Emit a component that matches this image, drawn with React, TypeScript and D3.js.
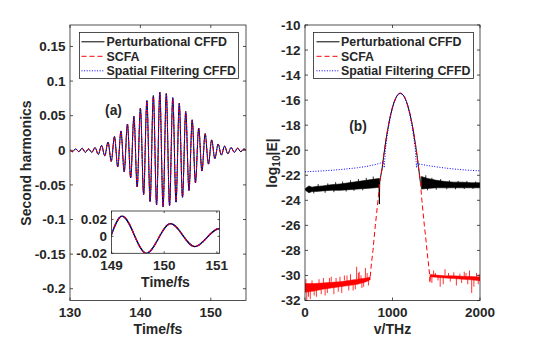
import React from 'react';
import * as d3 from 'd3';

// ---------- Panel (a): second harmonic waveform (extrema) ----------
const waveTime = [
  130.0, 130.34, 130.8, 131.26, 131.72, 132.18, 132.64, 133.1, 133.56, 134.02, 134.48, 134.94,
  135.4, 135.86, 136.32, 136.78, 137.24, 137.7, 138.16, 138.62, 139.08, 139.54, 140.0, 140.46,
  140.92, 141.38, 141.84, 142.3, 142.76, 143.22, 143.68, 144.14, 144.6, 145.06, 145.52, 145.98,
  146.44, 146.9, 147.36, 147.82, 148.28, 148.74, 149.2, 149.66, 150.12, 150.58, 151.04, 151.5,
  151.96, 152.42, 152.88, 153.34, 153.8, 154.26, 154.72, 155.0,
];
const waveValue = [
  0.0, -0.002, 0.002, -0.002, 0.003, -0.003, 0.002, -0.003, 0.004, -0.006, 0.007, -0.008,
  0.012, -0.016, 0.02, -0.024, 0.028, -0.031, 0.038, -0.04, 0.049, -0.053, 0.061, -0.064,
  0.072, -0.074, 0.079, -0.079, 0.084, -0.082, 0.082, -0.08, 0.076, -0.075, 0.068, -0.068,
  0.056, -0.058, 0.044, -0.047, 0.032, -0.03, 0.024, -0.02, 0.015, -0.012, 0.009, -0.007,
  0.006, -0.005, 0.004, -0.003, 0.003, -0.002, 0.002, 0.0,
];
const mainXTicks = [130, 140, 150];
const mainXTickLabels = ['130', '140', '150'];
const mainYTicks = [-0.2, -0.15, -0.1, -0.05, 0, 0.05, 0.1, 0.15];
const mainYTickLabels = ['-0.2', '-0.15', '-0.1', '-0.05', '0', '0.05', '0.1', '0.15'];
const insetXTicks = [149, 150, 151];
const insetXTickLabels = ['149', '150', '151'];
const insetYTicks = [-0.02, 0, 0.02];
const insetYTickLabels = ['-0.02', '0', '0.02'];

// ---------- Panel (b): spectrum log10|E| ----------
const peakFreq = [880, 900, 920, 940, 960, 980, 1000, 1020, 1040, 1060, 1080, 1090, 1100, 1120, 1140, 1160, 1180, 1200, 1220, 1240, 1260, 1280, 1300];
const peakLog = [-21.51, -20.41, -19.42, -18.54, -17.77, -17.11, -16.56, -16.12, -15.79, -15.57, -15.46, -15.45, -15.46, -15.57, -15.79, -16.12, -16.56, -17.11, -17.77, -18.54, -19.42, -20.41, -21.51];

// SCFA (red): rising / falling flanks outside the common peak
const redRiseFreq = [745, 760, 777, 790, 804, 819, 834, 848, 862];
const redRiseLog = [-30.1, -29.0, -28.0, -27.0, -26.0, -25.0, -24.0, -23.0, -22.2];
const redFallFreq = [1318, 1336, 1350, 1364, 1380, 1394, 1410, 1425, 1428, 1432];
const redFallLog = [-22.5, -24.0, -25.0, -26.0, -27.0, -28.0, -29.0, -30.0, -30.6, -30.0];
// SCFA noise floors (upper / lower edge of the noisy band)
const redLeftFloorFreq = [0, 100, 200, 300, 400, 500, 600, 700, 745];
const redLeftFloorHigh = [-30.65, -30.65, -30.6, -30.55, -30.5, -30.4, -30.3, -30.2, -30.12];
const redLeftFloorLow = [-31.35, -31.25, -31.1, -31.0, -30.9, -30.8, -30.7, -30.5, -30.35];
const redRightFloorFreq = [1430, 1500, 1600, 1700, 1800, 1900, 2000];
const redRightFloorHigh = [-29.92, -29.97, -30.02, -30.03, -30.07, -30.08, -30.12];
const redRightFloorLow = [-30.1, -30.15, -30.2, -30.25, -30.3, -30.35, -30.42];
const redSpikeFreq = [
  20, 60, 130, 230, 330, 420, 550, 650, 300, 450, 590, 620, 690,
  10, 40, 80, 105, 160, 185, 210, 255, 280, 355, 380, 400, 480, 500, 520, 575, 610, 640, 670, 710, 725,
  1450, 1470, 1545, 1580, 1600, 1700, 1730, 1820, 1860, 1880, 1905, 1930, 1960,
  1490, 1520, 1640, 1660, 1770, 1790, 1840, 1980, 1990,
];
const redSpikeFrom = [
  -31.2, -31.2, -31.1, -31.0, -30.9, -30.8, -30.7, -30.6, -30.5, -30.4, -30.3, -30.3, -30.2,
  -30.9, -31.0, -30.9, -31.0, -30.8, -31.0, -30.8, -30.9, -30.7, -30.7, -30.8, -30.6, -30.6, -30.7, -30.5, -30.6, -30.4, -30.4, -30.5, -30.3, -30.3,
  -30.0, -30.0, -30.1, -30.1, -30.0, -30.1, -30.1, -30.1, -30.2, -30.2, -30.2, -30.2, -30.2,
  -30.0, -30.1, -30.1, -30.2, -30.1, -30.2, -30.2, -30.3, -30.2,
];
const redSpikeTo = [
  -32.0, -31.9, -31.7, -31.6, -31.5, -31.4, -31.2, -31.0, -30.1, -30.0, -29.3, -29.7, -29.4,
  -30.3, -31.7, -30.4, -31.6, -30.3, -31.5, -30.2, -31.4, -30.2, -30.2, -31.3, -30.1, -30.0, -31.2, -29.9, -31.1, -29.8, -30.0, -30.9, -29.8, -30.8,
  -30.6, -29.6, -30.9, -30.7, -29.5, -29.75, -30.8, -29.7, -30.7, -29.6, -31.4, -30.9, -29.8,
  -29.8, -30.4, -29.8, -30.5, -29.85, -30.6, -29.8, -30.7, -29.9,
];

// Perturbational CFFD (black)
const blackLeftFreq = [845, 850, 854, 862];
const blackLeftLog = [-22.3, -24.3, -22.5, -22.2];
const blackRightFreq = [1318, 1330];
const blackRightLog = [-22.5, -22.6];
const blackLeftBandFreq = [0, 15, 45, 80, 120, 200, 300, 400, 500, 600, 700, 800, 850];
const blackLeftBandHigh = [-23.1, -23.0, -22.85, -22.95, -22.9, -22.85, -22.75, -22.7, -22.6, -22.5, -22.4, -22.3, -22.25];
const blackLeftBandLow = [-23.15, -23.25, -23.4, -23.3, -23.3, -23.25, -23.2, -23.2, -23.15, -23.1, -23.05, -23.0, -22.95];
const blackRightBandFreq = [1330, 1400, 1500, 1600, 1700, 1800, 1900, 2000];
const blackRightBandHigh = [-22.1, -22.25, -22.4, -22.5, -22.55, -22.55, -22.6, -22.6];
const blackRightBandLow = [-23.1, -23.05, -23.0, -23.0, -23.0, -23.0, -23.0, -23.0];
const blackSpikeFreq = [150, 260, 350, 430, 520, 610, 700, 780, 100, 230, 330, 470, 560, 660, 1380, 1450, 1550, 1650, 1750, 1850, 1950, 1400, 1500, 1620, 1720, 1820, 1920];
const blackSpikeFrom = [-23.0, -22.9, -22.85, -22.8, -22.7, -22.6, -22.5, -22.4, -23.1, -23.1, -23.0, -23.0, -23.0, -22.9, -22.5, -22.6, -22.6, -22.7, -22.7, -22.8, -22.8, -22.8, -22.8, -22.8, -22.8, -22.8, -22.8];
const blackSpikeTo = [-22.7, -22.65, -22.55, -22.5, -22.4, -22.3, -22.2, -22.1, -23.45, -23.4, -23.35, -23.3, -23.25, -23.2, -22.0, -22.2, -22.3, -22.4, -22.45, -22.45, -22.5, -23.2, -23.15, -23.12, -23.12, -23.1, -23.1];

// Spatial Filtering CFFD (blue)
const blueFreq = [0, 200, 400, 600, 700, 800, 860, 900, 905, 910, 920, 940, 960, 980, 1000, 1020, 1040, 1060, 1090, 1120, 1140, 1160, 1180, 1200, 1220, 1240, 1260, 1270, 1275, 1280, 1300, 1400, 1500, 1600, 1700, 1800, 1900, 2000];
const blueLog = [-21.72, -21.65, -21.55, -21.4, -21.3, -21.15, -21.03, -20.95, -21.4, -20.9, -19.9, -18.8, -17.95, -17.25, -16.65, -16.18, -15.82, -15.58, -15.45, -15.58, -15.82, -16.18, -16.65, -17.25, -17.95, -18.8, -19.9, -20.9, -21.4, -21.05, -21.1, -21.22, -21.33, -21.42, -21.5, -21.56, -21.61, -21.65];

const specXTicks = [0, 1000, 2000];
const specXTickLabels = ['0', '1000', '2000'];
const specYTicks = [-32, -30, -28, -26, -24, -22, -20, -18, -16, -14, -12, -10];
const specYTickLabels = ['-32', '-30', '-28', '-26', '-24', '-22', '-20', '-18', '-16', '-14', '-12', '-10'];

const legendLabels = ['Perturbational CFFD', 'SCFA', 'Spatial Filtering CFFD'];

// ---------- styles ----------
const FONT = '"Liberation Sans", Arial, Helvetica, sans-serif';
const AXIS = '#262626';
const BLACK = '#000000';
const RED = '#ff0000';
const BLUE = '#0000ff';
const DASH = '5,3';
const DOT = '1,1.6';

type P = [number, number];
const zip = (a: number[], b: number[]): P[] => a.map((v, i) => [v, b[i]] as P);

function Frame({ x0, x1, y0, y1, xs, ys, xt, yt, len }: any) {
  return (
    <g stroke={AXIS} strokeWidth={0.8} fill="none">
      <rect x={x0} y={y1} width={x1 - x0} height={y0 - y1} />
      {xt.map((t: number, i: number) => (
        <g key={'x' + i}>
          <line x1={xs(t)} x2={xs(t)} y1={y0} y2={y0 - len} />
          <line x1={xs(t)} x2={xs(t)} y1={y1} y2={y1 + len} />
        </g>
      ))}
      {yt.map((t: number, i: number) => (
        <g key={'y' + i}>
          <line x1={x0} x2={x0 + len} y1={ys(t)} y2={ys(t)} />
          <line x1={x1} x2={x1 - len} y1={ys(t)} y2={ys(t)} />
        </g>
      ))}
    </g>
  );
}

function TickLabels({ xs, ys, xt, xl, yt, yl, xBase, yRight, size }: any) {
  return (
    <g fill={AXIS} fontFamily={FONT} fontWeight="bold" fontSize={size}>
      {xt.map((t: number, i: number) => (
        <text key={'xl' + i} x={xs(t)} y={xBase} textAnchor="middle">{xl[i]}</text>
      ))}
      {yt.map((t: number, i: number) => (
        <text key={'yl' + i} x={yRight} y={ys(t)} dy="0.35em" textAnchor="end">{yl[i]}</text>
      ))}
    </g>
  );
}

function Legend({ x, y, w, h, lx1, lx2, tx }: any) {
  const rows = [46.3, 60.8, 75.3];
  const colors = [BLACK, RED, BLUE];
  const dashes = [undefined, DASH, DOT];
  return (
    <g>
      <rect x={x} y={y} width={w} height={h} fill="#ffffff" stroke={AXIS} strokeWidth={0.8} />
      {legendLabels.map((lab, i) => (
        <g key={lab}>
          <line x1={lx1} x2={lx2} y1={rows[i] - 4.5} y2={rows[i] - 4.5} stroke={colors[i]} strokeWidth={1} strokeDasharray={dashes[i]} />
          <text x={tx} y={rows[i]} fill={AXIS} fontFamily={FONT} fontWeight="bold" fontSize={12.4}>{lab}</text>
        </g>
      ))}
    </g>
  );
}

export default function App() {
  const xMain = d3.scaleLinear().domain([130, 155]).range([70, 246]);
  const yMain = d3.scaleLinear().domain([-0.217, 0.181]).range([300.5, 25]);
  const xIn = d3.scaleLinear().domain([149, 151.05]).range([111.5, 219.5]);
  const yIn = d3.scaleLinear().domain([-0.02, 0.03]).range([253.3, 211]);
  const xSp = d3.scaleLinear().domain([0, 2000]).range([305, 480]);
  const ySp = d3.scaleLinear().domain([-32, -10]).range([300.5, 25]);

  const wave = zip(waveTime, waveValue);
  const mainLine = d3.line<P>().x(d => xMain(d[0])).y(d => yMain(d[1])).curve(d3.curveMonotoneX);
  const inLine = d3.line<P>().x(d => xIn(d[0])).y(d => yIn(d[1])).curve(d3.curveMonotoneX);
  const spLine = d3.line<P>().x(d => xSp(d[0])).y(d => ySp(d[1]));
  const spArea = (f: number[], hi: number[], lo: number[]) =>
    d3.area<number>().x((_, i) => xSp(f[i])).y0((_, i) => ySp(lo[i])).y1((_, i) => ySp(hi[i]))(f) || '';

  const peak = zip(peakFreq, peakLog);
  const redPath = [...zip(redRiseFreq, redRiseLog), ...peak, ...zip(redFallFreq, redFallLog)];
  const blackPath = [...zip(blackLeftFreq, blackLeftLog), ...peak, ...zip(blackRightFreq, blackRightLog)];
  const bluePath = zip(blueFreq, blueLog);

  const waveD = mainLine(wave) || '';
  const inD = inLine(wave) || '';

  return (
    <svg width={534} height={339} style={{ position: 'fixed', left: 0, top: 0, background: '#fff' }}>
      <defs>
        <clipPath id="clipMain"><rect x={70} y={25} width={176} height={275.5} /></clipPath>
        <clipPath id="clipIn"><rect x={111.5} y={211} width={108} height={42.3} /></clipPath>
        <clipPath id="clipSp"><rect x={305} y={25} width={175} height={275.5} /></clipPath>
      </defs>
      <rect x={0} y={0} width={534} height={339} fill="#fff" />

      {/* ---------- panel (a) ---------- */}
      <rect x={70} y={25} width={176} height={275.5} fill="#fff" />
      <g clipPath="url(#clipMain)" fill="none">
        <path d={waveD} stroke={BLACK} strokeWidth={1} />
        <path d={waveD} stroke={RED} strokeWidth={1} strokeDasharray={DASH} />
        <path d={waveD} stroke={BLUE} strokeWidth={1} strokeDasharray={DOT} />
      </g>
      <Frame x0={70} x1={246} y0={300.5} y1={25} xs={xMain} ys={yMain} xt={mainXTicks} yt={mainYTicks} len={3} />
      <TickLabels xs={xMain} ys={yMain} xt={mainXTicks} xl={mainXTickLabels} yt={mainYTicks} yl={mainYTickLabels} xBase={317} yRight={65.5} size={13.5} />
      <text x={158} y={334} textAnchor="middle" fill={AXIS} fontFamily={FONT} fontWeight="bold" fontSize={14}>Time/fs</text>
      <text transform="translate(31,163) rotate(-90)" textAnchor="middle" fill={AXIS} fontFamily={FONT} fontWeight="bold" fontSize={14}>Second harmonics</text>
      <text x={113.5} y={114.5} textAnchor="middle" fill={AXIS} fontFamily={FONT} fontWeight="bold" fontSize={13.8}>(a)</text>
      <Legend x={79.5} y={32.5} w={159} h={46} lx1={81.5} lx2={104.5} tx={106.5} />

      {/* inset */}
      <rect x={111.5} y={211} width={108} height={42.3} fill="#fff" />
      <g clipPath="url(#clipIn)" fill="none">
        <path d={inD} stroke={BLACK} strokeWidth={1.3} />
        <path d={inD} stroke={RED} strokeWidth={1.3} strokeDasharray={DASH} />
        <path d={inD} stroke={BLUE} strokeWidth={1.3} strokeDasharray={DOT} />
      </g>
      <Frame x0={111.5} x1={219.5} y0={253.3} y1={211} xs={xIn} ys={yIn} xt={insetXTicks} yt={insetYTicks} len={2} />
      <TickLabels xs={xIn} ys={yIn} xt={insetXTicks} xl={insetXTickLabels} yt={insetYTicks} yl={insetYTickLabels} xBase={270} yRight={107} size={13.5} />
      <text x={165.5} y={287} textAnchor="middle" fill={AXIS} fontFamily={FONT} fontWeight="bold" fontSize={14}>Time/fs</text>

      {/* ---------- panel (b) ---------- */}
      <rect x={305} y={25} width={175} height={275.5} fill="#fff" />
      <g clipPath="url(#clipSp)">
        {/* black */}
        <path d={spArea(blackLeftBandFreq, blackLeftBandHigh, blackLeftBandLow)} fill={BLACK} stroke={BLACK} strokeWidth={0.6} />
        <path d={spArea(blackRightBandFreq, blackRightBandHigh, blackRightBandLow)} fill={BLACK} stroke={BLACK} strokeWidth={0.6} />
        {blackSpikeFreq.map((f, i) => (
          <line key={'bs' + i} x1={xSp(f)} x2={xSp(f)} y1={ySp(blackSpikeFrom[i])} y2={ySp(blackSpikeTo[i])} stroke={BLACK} strokeWidth={0.8} />
        ))}
        <path d={spLine(blackPath) || ''} fill="none" stroke={BLACK} strokeWidth={1} />
        {/* red */}
        <path d={spArea(redLeftFloorFreq, redLeftFloorHigh, redLeftFloorLow)} fill={RED} stroke={RED} strokeWidth={0.5} />
        <path d={spArea(redRightFloorFreq, redRightFloorHigh, redRightFloorLow)} fill={RED} stroke={RED} strokeWidth={0.5} />
        {redSpikeFreq.map((f, i) => (
          <line key={'rs' + i} x1={xSp(f)} x2={xSp(f)} y1={ySp(redSpikeFrom[i])} y2={ySp(redSpikeTo[i])} stroke={RED} strokeWidth={0.8} />
        ))}
        <path d={spLine(redPath) || ''} fill="none" stroke={RED} strokeWidth={1} strokeDasharray={DASH} />
        {/* blue */}
        <path d={spLine(bluePath) || ''} fill="none" stroke={BLUE} strokeWidth={1} strokeDasharray={DOT} />
      </g>
      <Frame x0={305} x1={480} y0={300.5} y1={25} xs={xSp} ys={ySp} xt={specXTicks} yt={specYTicks} len={3} />
      <TickLabels xs={xSp} ys={ySp} xt={specXTicks} xl={specXTickLabels} yt={specYTicks} yl={specYTickLabels} xBase={317} yRight={300.5} size={13.5} />
      <text x={392.5} y={334} textAnchor="middle" fill={AXIS} fontFamily={FONT} fontWeight="bold" fontSize={14}>v/THz</text>
      <text transform="translate(277,163) rotate(-90)" textAnchor="middle" fill={AXIS} fontFamily={FONT} fontWeight="bold" fontSize={14}>
        log<tspan fontSize={10} dy={3}>10</tspan><tspan dy={-3}>|E|</tspan>
      </text>
      <text x={358} y={131} textAnchor="middle" fill={AXIS} fontFamily={FONT} fontWeight="bold" fontSize={13.8}>(b)</text>
      <Legend x={313.5} y={32.5} w={160} h={46} lx1={316.5} lx2={339.5} tx={341} />
    </svg>
  );
}
